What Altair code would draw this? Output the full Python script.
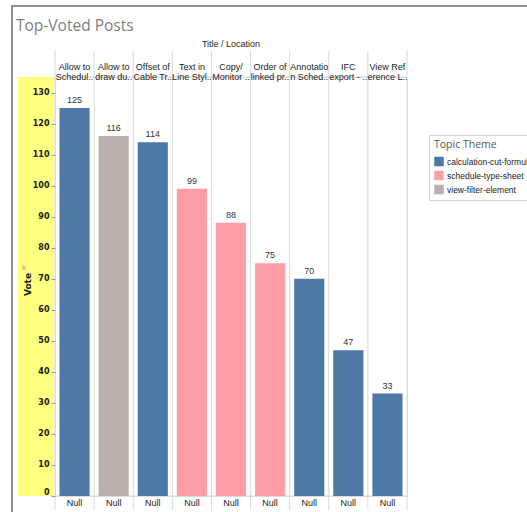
import altair as alt
import pandas as pd

# Post titles (as shown in the two-line column headers), their vote counts and topic themes
titles = [
    "Allow to\nSchedul..", "Allow to\ndraw du..", "Offset of\nCable Tr..",
    "Text in\nLine Styl..", "Copy/\nMonitor ..", "Order of\nlinked pr..",
    "Annotatio\nn Sched..", "IFC\nexport - ..", "View Ref\nerence L..",
]
votes = [125, 116, 114, 99, 88, 75, 70, 47, 33]
themes = [
    "calculation-cut-formula", "view-filter-element", "calculation-cut-formula",
    "schedule-type-sheet", "schedule-type-sheet", "schedule-type-sheet",
    "calculation-cut-formula", "calculation-cut-formula", "calculation-cut-formula",
]
locations = ["Null"] * 9

theme_domain = ["calculation-cut-formula", "schedule-type-sheet", "view-filter-element"]
theme_colors = ["#4e79a7", "#ff9da7", "#bab0ac"]
vote_ticks = list(range(0, 140, 10))

df = pd.DataFrame({"title": titles, "votes": votes, "theme": themes, "location": locations})

W, H = 352, 419
one = alt.Data(values=[{}])
X = alt.X("title:N", sort=None, axis=None, scale=alt.Scale(paddingInner=0, paddingOuter=0))
GRID = "#d9d9d9"
SANS = "Liberation Sans"

# shared vote axis for every layer that uses the vote scale
vote_axis = alt.Axis(values=vote_ticks, grid=False, domain=False,
                     tickSize=4, tickColor="#9a9a9a", labelPadding=2,
                     labelFlush=True, labelOverlap=False,
                     labelFont="DejaVu Sans", labelFontWeight="bold", labelFontSize=8,
                     labelColor="#1a1a1a", titleFont="DejaVu Sans",
                     titleFontWeight="bold", titleFontSize=9, titleColor="#1a1a1a",
                     titleAngle=270, titleX=-28, titleY=207, titleAlign="center",
                     titleBaseline="middle", zindex=2)
Y = alt.Y("votes:Q", title="Vote", axis=vote_axis,
          scale=alt.Scale(domain=[0, 135], nice=False, zero=True))

# dashboard zone frame
frame_left = alt.Chart(one).mark_rule(color="#8f8f8f", strokeWidth=2).encode(
    x=alt.value(-43), y=alt.value(-71), y2=alt.value(H + 16))
frame_top = alt.Chart(one).mark_rule(color="#8f8f8f", strokeWidth=2).encode(
    x=alt.value(-44), x2=alt.value(W + 120), y=alt.value(-71))

# sheet title
sheet_title = alt.Chart(one).mark_text(font="Open Sans", fontSize=15.5, color="#7f7f7f",
                                       align="left", baseline="alphabetic").encode(
    x=alt.value(-39), y=alt.value(-46), text=alt.value("Top-Voted Posts"))

# highlighted axis band
axis_band = alt.Chart(one).mark_rect(color="#ffff80").encode(
    x=alt.value(-37), x2=alt.value(-1), y=alt.value(0), y2=alt.value(H))

# small sort indicator above the axis title
sort_icon = alt.Chart(one).mark_text(font=SANS, fontSize=7, color="#8a8a8a",
                                     baseline="middle").encode(
    x=alt.value(-30), y=alt.value(191), text=alt.value("lı."))

# column dividers through header, pane and footer
dividers = alt.Chart(df).mark_rule(color=GRID, strokeWidth=1).encode(
    x=alt.X("title:N", sort=None, axis=None, bandPosition=0,
            scale=alt.Scale(paddingInner=0, paddingOuter=0)),
    y=alt.value(-26), y2=alt.value(H + 14))
last_divider = alt.Chart(one).mark_rule(color=GRID, strokeWidth=1).encode(
    x=alt.value(W), y=alt.value(-26), y2=alt.value(H + 14))
header_line = alt.Chart(one).mark_rule(color=GRID, strokeWidth=1).encode(
    x=alt.value(0), x2=alt.value(W), y=alt.value(0))
base_line = alt.Chart(one).mark_rule(color=GRID, strokeWidth=1).encode(
    x=alt.value(0), x2=alt.value(W), y=alt.value(H))

bars = alt.Chart(df).mark_bar(width=alt.RelativeBandSize(0.77)).encode(
    x=X,
    y=Y,
    color=alt.Color("theme:N", title="Topic Theme",
                    scale=alt.Scale(domain=theme_domain, range=theme_colors),
                    legend=alt.Legend(orient="none", legendX=374, legendY=58,
                                      symbolType="square", symbolSize=90,
                                      symbolStrokeWidth=0, symbolOpacity=1,
                                      fillColor="white", strokeColor="#d0d0d0",
                                      padding=5, rowPadding=4, titlePadding=6,
                                      labelOffset=3,
                                      titleFont="Open Sans", titleFontSize=10.5,
                                      titleFontWeight="normal", titleColor="#555555",
                                      labelFont=SANS, labelFontSize=8.5,
                                      labelColor="#222222", labelLimit=300)),
)

values = alt.Chart(df).mark_text(font=SANS, fontSize=9, color="#333333",
                                 baseline="bottom", dy=-3).encode(
    x=X, y=Y, text=alt.Text("votes:Q"))

headers = alt.Chart(df).mark_text(font=SANS, fontSize=9, color="#222222",
                                  lineBreak="\n", lineHeight=10,
                                  baseline="middle").encode(
    x=X, y=alt.value(-10), text="title:N")

header_title = alt.Chart(one).mark_text(font=SANS, fontSize=9, color="#222222",
                                        baseline="middle").encode(
    x=alt.value(W / 2), y=alt.value(-33), text=alt.value("Title  /  Location"))

footer = alt.Chart(df).mark_text(font=SANS, fontSize=9, color="#222222",
                                 baseline="middle").encode(
    x=X, y=alt.value(H + 7), text="location:N")

chart = alt.layer(
    frame_left, frame_top, sheet_title, axis_band, sort_icon, dividers, last_divider,
    header_line, base_line, bars, values, headers, header_title, footer,
).properties(
    width=W, height=H,
    autosize=alt.AutoSizeParams(type="none"),
    padding={"left": 55, "top": 77, "right": 120, "bottom": 16},
).configure_view(stroke=None).configure(background="white")

chart.save("out.html", embed_options={"renderer": "svg", "actions": False})
